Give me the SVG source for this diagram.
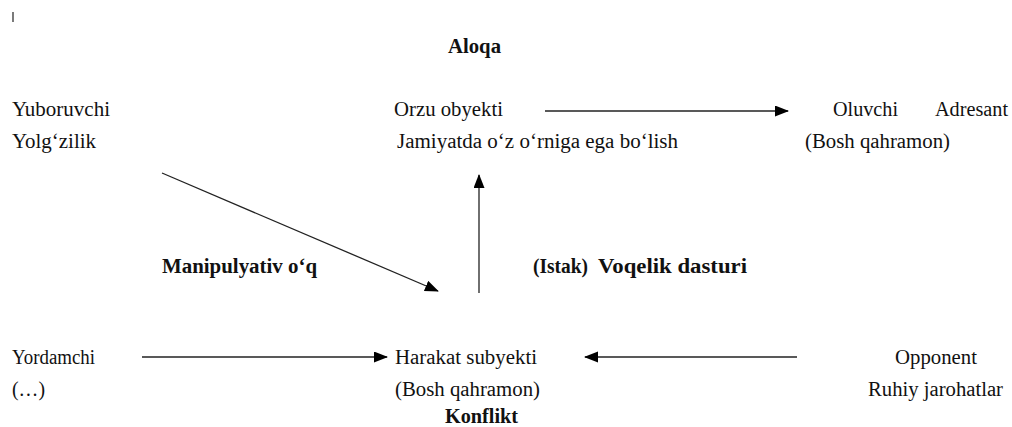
<svg xmlns="http://www.w3.org/2000/svg" width="1012" height="427" viewBox="0 0 1012 427">
<style>
text{font-family:"Liberation Serif","Times New Roman",serif;font-size:20px;fill:#111}
.b{font-weight:bold}
.c{stroke:#222;stroke-width:1.3;fill:none}
</style>
<defs>
<marker id="ah" markerUnits="userSpaceOnUse" markerWidth="14" markerHeight="12" refX="13" refY="5.5" orient="auto" viewBox="0 0 14 12">
<path d="M0,0 L14,5.5 L0,11 z" fill="#000"/>
</marker>
</defs>
<rect width="1012" height="427" fill="#fff"/>
<line x1="13" y1="12" x2="13" y2="22" stroke="#222" stroke-width="1.2"/>
<g id="aloqa"><text class="b" x="448" y="53" textLength="53" lengthAdjust="spacingAndGlyphs">Aloqa</text></g>
<g id="yuboruvchi">
<text x="12" y="116" textLength="98" lengthAdjust="spacingAndGlyphs">Yuboruvchi</text>
<text x="12" y="148" textLength="84" lengthAdjust="spacingAndGlyphs">Yolg‘zilik</text>
</g>
<g id="orzu">
<text x="394" y="116" textLength="109" lengthAdjust="spacingAndGlyphs">Orzu obyekti</text>
<text x="397" y="148" textLength="281" lengthAdjust="spacingAndGlyphs">Jamiyatda o‘z o‘rniga ega bo‘lish</text>
</g>
<g id="oluvchi">
<text x="833" y="116" textLength="65" lengthAdjust="spacingAndGlyphs">Oluvchi</text>
<text x="935" y="116" textLength="73" lengthAdjust="spacingAndGlyphs">Adresant</text>
<text x="805" y="148" textLength="145" lengthAdjust="spacingAndGlyphs">(Bosh qahramon)</text>
</g>
<g id="manipulyativ"><text class="b" x="162" y="273" textLength="155" lengthAdjust="spacingAndGlyphs">Manipulyativ o‘q</text></g>
<g id="istak">
<text class="b" x="533" y="273" textLength="55" lengthAdjust="spacingAndGlyphs">(Istak)</text>
<text class="b" x="598" y="273" textLength="149" lengthAdjust="spacingAndGlyphs">Voqelik dasturi</text>
</g>
<g id="yordamchi">
<text x="12" y="364" textLength="83" lengthAdjust="spacingAndGlyphs">Yordamchi</text>
<text x="12" y="396" textLength="33" lengthAdjust="spacingAndGlyphs">(…)</text>
</g>
<g id="harakat">
<text x="395" y="364" textLength="142" lengthAdjust="spacingAndGlyphs">Harakat subyekti</text>
<text x="395" y="396" textLength="145" lengthAdjust="spacingAndGlyphs">(Bosh qahramon)</text>
<text class="b" x="445" y="423" textLength="73" lengthAdjust="spacingAndGlyphs">Konflikt</text>
</g>
<g id="opponent">
<text x="895" y="364" textLength="82" lengthAdjust="spacingAndGlyphs">Opponent</text>
<text x="868" y="396" textLength="135" lengthAdjust="spacingAndGlyphs">Ruhiy jarohatlar</text>
</g>
<g id="connectors">
<line class="c" x1="545" y1="111" x2="788" y2="111" marker-end="url(#ah)"/>
<line class="c" x1="162" y1="173" x2="438" y2="291" marker-end="url(#ah)"/>
<line class="c" x1="479" y1="293" x2="479" y2="175" marker-end="url(#ah)"/>
<line class="c" x1="142" y1="357" x2="387" y2="357" marker-end="url(#ah)"/>
<line class="c" x1="797" y1="357" x2="585" y2="357" marker-end="url(#ah)"/>
</g>
</svg>
